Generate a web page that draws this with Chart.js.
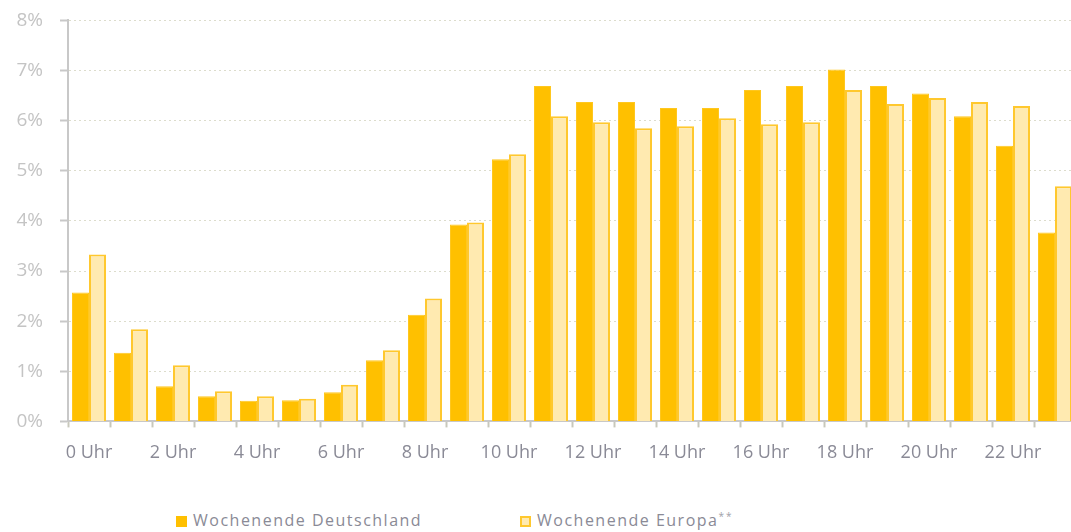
<!DOCTYPE html>
<html lang="de">
<head>
    <meta charset="UTF-8">
    <title>Wochenende Deutschland / Europa</title>
    <script src="https://cdn.jsdelivr.net/npm/chart.js"></script>
    <style>
        html, body {
            margin: 0;
            padding: 0;
            background: #fff;
            overflow: hidden;
        }
        #chartContainer {
            position: relative;
            width: 1080px;
            height: 496px;
            margin-top: -8px;
        }
        #legend {
            position: absolute;
            top: 509px;
            left: 0;
            font-family: "Open Sans", sans-serif;
            font-size: 16px;
            letter-spacing: 1.5px;
            color: #8a8a96;
            white-space: nowrap;
        }
        .item {
            position: absolute;
            top: 0;
            height: 22px;
            line-height: 22px;
        }
        .box {
            display: inline-block;
            width: 11px;
            height: 11px;
            box-sizing: border-box;
            margin-right: 6px;
            vertical-align: -1px;
        }
        .stars {
            position: relative;
            top: -6px;
            font-size: 10px;
            color: #a0a0a8;
            letter-spacing: 2px;
        }
    </style>
</head>
<body>

<div id="chartContainer">
    <canvas id="hourChart"></canvas>
</div>

<div id="legend">
    <div class="item" style="left:176px"><span class="box" style="background:#FFC000"></span>Wochenende Deutschland</div>
    <div class="item" style="left:520px"><span class="box" style="background:#FFEAB0;border:2px solid #FFC82E"></span>Wochenende Europa<span class="stars">**</span></div>
</div>

<script>
    // hours of the day
    const hours = ["0 Uhr", "1 Uhr", "2 Uhr", "3 Uhr", "4 Uhr", "5 Uhr", "6 Uhr", "7 Uhr",
        "8 Uhr", "9 Uhr", "10 Uhr", "11 Uhr", "12 Uhr", "13 Uhr", "14 Uhr", "15 Uhr",
        "16 Uhr", "17 Uhr", "18 Uhr", "19 Uhr", "20 Uhr", "21 Uhr", "22 Uhr", "23 Uhr"];

    // share in percent
    const deutschland = [2.57, 1.37, 0.70, 0.50, 0.41, 0.42, 0.58, 1.22,
        2.13, 3.93, 5.23, 6.69, 6.37, 6.37, 6.25, 6.25,
        6.61, 6.69, 7.02, 6.69, 6.54, 6.09, 5.50, 3.77];

    const europa = [3.33, 1.84, 1.12, 0.60, 0.50, 0.45, 0.73, 1.42,
        2.45, 3.97, 5.33, 6.09, 5.97, 5.85, 5.89, 6.05,
        5.93, 5.97, 6.61, 6.33, 6.45, 6.37, 6.29, 4.69];

    const yTicks = [0, 1, 2, 3, 4, 5, 6, 7, 8];

    const ctx = document.getElementById('hourChart').getContext('2d');
    new Chart(ctx, {
        type: 'bar',
        data: {
            labels: hours,
            datasets: [{
                label: 'Wochenende Deutschland',
                data: deutschland,
                backgroundColor: '#FFC000',
                borderColor: '#FFC71F',
                borderWidth: 1,
                categoryPercentage: 0.81,
                barPercentage: 1.0
            }, {
                label: 'Wochenende Europa**',
                data: europa,
                backgroundColor: '#FFEAB0',
                borderColor: '#FFC82E',
                borderWidth: 2,
                categoryPercentage: 0.81,
                barPercentage: 1.0
            }]
        },
        options: {
            responsive: true,
            maintainAspectRatio: false,
            animation: false,
            layout: {
                padding: { top: 3, right: 4, bottom: 9, left: 0 }
            },
            plugins: {
                legend: { display: false },
                tooltip: { enabled: false }
            },
            scales: {
                x: {
                    grid: {
                        offset: true,
                        drawOnChartArea: false,
                        drawTicks: true,
                        tickLength: 6,
                        tickColor: '#c8c8bc',
                        tickWidth: 2
                    },
                    border: { color: '#c8c8c8', width: 2 },
                    ticks: {
                        autoSkip: false,
                        maxRotation: 0,
                        padding: 15,
                        color: '#8a8a96',
                        font: { family: 'Open Sans', size: 18 },
                        callback: (v, i) => i % 2 === 0 ? hours[i] : ''
                    }
                },
                y: {
                    min: 0,
                    max: 8,
                    afterBuildTicks: axis => {
                        axis.ticks = yTicks.map(v => ({ value: v }));
                    },
                    afterFit: axis => { axis.width = 68; },
                    grid: {
                        color: '#dcdccc',
                        lineWidth: 1,
                        tickLength: 8,
                        tickColor: '#c8c8c8',
                        tickWidth: 2
                    },
                    border: { color: '#c8c8c8', width: 2, dash: [2, 3] },
                    ticks: {
                        padding: 17,
                        color: '#c4c4c4',
                        font: { family: 'Open Sans', size: 19 },
                        callback: v => v + '%'
                    }
                }
            }
        }
    });
</script>

</body>
</html>
